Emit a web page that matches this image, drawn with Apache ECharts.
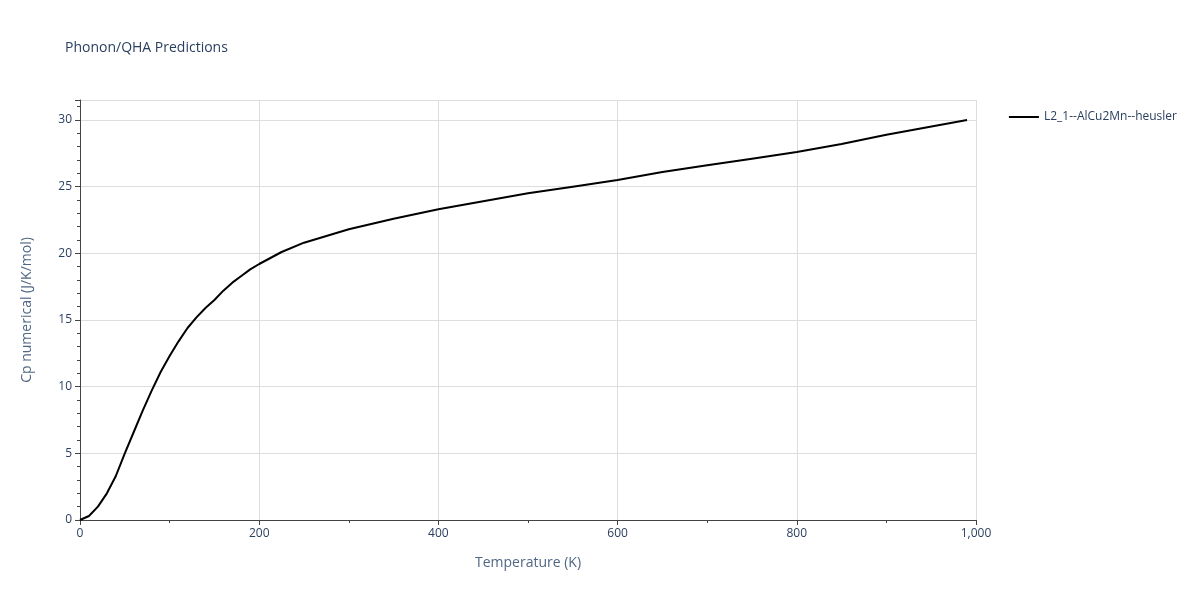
<!DOCTYPE html><html><head><meta charset="utf-8"><script src="https://cdn.jsdelivr.net/npm/echarts@6/dist/echarts.min.js"></script></head><body style="margin:0"><div id="c" style="width:1200px;height:600px"></div><script>
const temps=[0,10,20,30,40,50,60,70,80,90,100,110,120,130,140,150,160,170,180,190,200,225,250,275,300,350,400,450,500,550,600,650,700,750,800,850,900,990];
const cp=[0,0.3,1.0,2.0,3.3,5.0,6.6,8.2,9.7,11.1,12.3,13.4,14.4,15.2,15.9,16.5,17.2,17.8,18.3,18.8,19.2,20.1,20.8,21.3,21.8,22.6,23.3,23.9,24.5,25.0,25.5,26.1,26.6,27.1,27.6,28.2,28.9,30.0];
const seriesName='L2_1--AlCu2Mn--heusler';
const font='"Open Sans", sans-serif';
const c=echarts.init(document.getElementById('c'));
c.setOption({
title:{text:'Phonon/QHA Predictions',left:60,top:36,textStyle:{fontFamily:font,fontSize:14,fontWeight:'normal',color:'#2a3f5f'}},
legend:{right:18,top:106,orient:'vertical',icon:'path://M0,0H30V2H0Z',itemWidth:30,itemHeight:2,textStyle:{fontFamily:font,fontSize:12,color:'#2a3f5f'}},
grid:{left:80,right:224,top:100,bottom:80},
xAxis:{type:'value',min:0,max:1000,interval:200,name:'Temperature (K)',nameLocation:'middle',nameGap:36,nameTextStyle:{fontFamily:font,fontSize:14,color:'#506784'},
axisLine:{show:true,lineStyle:{color:'#444'}},axisTick:{show:true,length:5,lineStyle:{color:'#444'}},minorTick:{show:true,splitNumber:2,length:3,lineStyle:{color:'#444'}},
axisLabel:{fontFamily:font,fontSize:12,color:'#2a3f5f'},splitLine:{lineStyle:{color:'#ddd'}}},
yAxis:{type:'value',min:0,max:31.5,interval:5,name:'Cp numerical (J/K/mol)',nameLocation:'middle',nameGap:46,nameTextStyle:{fontFamily:font,fontSize:14,color:'#506784'},
axisLine:{show:true,lineStyle:{color:'#444'}},axisTick:{show:true,length:5,lineStyle:{color:'#444'}},minorTick:{show:true,splitNumber:5,length:3,lineStyle:{color:'#444'}},
axisLabel:{fontFamily:font,fontSize:12,color:'#2a3f5f',showMaxLabel:false},splitLine:{lineStyle:{color:'#ddd'}}},
series:[{name:seriesName,type:'line',data:temps.map((t,i)=>[t,cp[i]]),showSymbol:false,smooth:false,lineStyle:{color:'#000',width:2},itemStyle:{color:'#000'}}]
});
</script></body></html>
